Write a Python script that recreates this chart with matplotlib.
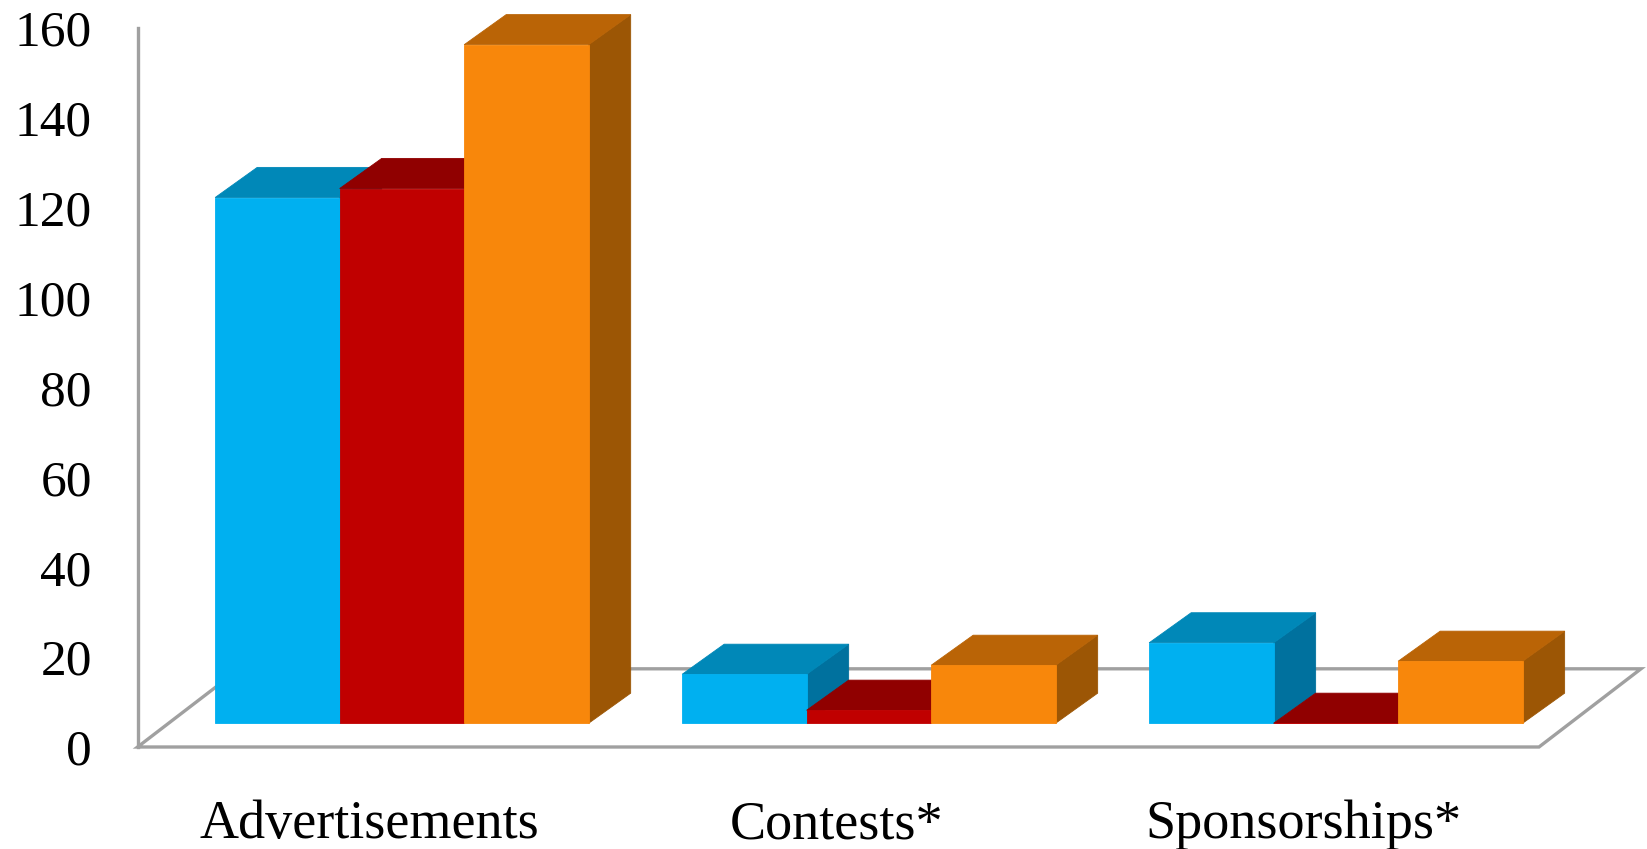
import matplotlib
matplotlib.use("Agg")
import matplotlib.pyplot as plt
from matplotlib.patches import Polygon

categories = ["Advertisements", "Contests*", "Sponsorships*"]
series_a = [117, 10.9, 17.9]
series_b = [119, 2.9, 0]
series_c = [151, 12.9, 13.8]
yticks = [0, 20, 40, 60, 80, 100, 120, 140, 160]

# front, top, side colours
colors_a = ("#00B0F0", "#0088B8", "#00719E")
colors_b = ("#C00000", "#900000", "#7A0000")
colors_c = ("#F8870B", "#BA6406", "#9C5605")

BAR_W = 0.2666
DEPTH_X = 0.09
DEPTH_Y = 6.7
BASE = 5.28
FLOOR_X = 0.2184
FLOOR_Y = 17.4
LABEL_SHIFT = -0.07
GREY = "#A0A0A0"


def draw_bar(ax, left, value, colors, z):
    right = left + BAR_W
    top = BASE + value
    front = [(left, BASE), (right, BASE), (right, top), (left, top)]
    lid = [(left, top), (right, top), (right + DEPTH_X, top + DEPTH_Y), (left + DEPTH_X, top + DEPTH_Y)]
    side = [(right, BASE), (right + DEPTH_X, BASE + DEPTH_Y), (right + DEPTH_X, top + DEPTH_Y), (right, top)]
    for pts, col in [(side, colors[2]), (lid, colors[1]), (front, colors[0])]:
        ax.add_patch(Polygon(pts, closed=True, facecolor=col, edgecolor=col, linewidth=0.6, clip_on=False, zorder=z))


def main():
    plt.rcParams["font.family"] = ["Liberation Serif", "DejaVu Serif"]
    fig = plt.figure(figsize=(16.47, 8.49), dpi=100)
    ax = fig.add_axes([137.6 / 1647, 102 / 849, 1401.4 / 1647, 719 / 849])
    ax.set_xlim(-0.566, 2.435)
    ax.set_ylim(0, 160)

    x0, x1 = ax.get_xlim()
    floor = [(x0, 0), (x1, 0), (x1 + FLOOR_X, FLOOR_Y), (x0 + FLOOR_X, FLOOR_Y)]
    ax.add_patch(Polygon(floor, closed=True, facecolor="white", edgecolor=GREY, linewidth=2.4, clip_on=False, zorder=1))

    z = 2
    for i in range(len(categories)):
        for k, (values, colors) in enumerate([(series_a, colors_a), (series_b, colors_b), (series_c, colors_c)]):
            draw_bar(ax, i + (k - 1.5) * BAR_W, values[i], colors, z)
            z += 1

    for s in ["top", "right", "bottom"]:
        ax.spines[s].set_visible(False)
    ax.spines["left"].set_color(GREY)
    ax.spines["left"].set_linewidth(2.4)

    ax.set_yticks(yticks)
    ax.tick_params(axis="y", length=0, pad=33, labelsize=37, labelcolor="black")
    ax.set_xticks([i + LABEL_SHIFT for i in range(len(categories))])
    ax.set_xticklabels(categories)
    ax.tick_params(axis="x", length=0, pad=38, labelsize=39, labelcolor="black")

    fig.savefig("out.png", dpi=100)


if __name__ == "__main__":
    main()
